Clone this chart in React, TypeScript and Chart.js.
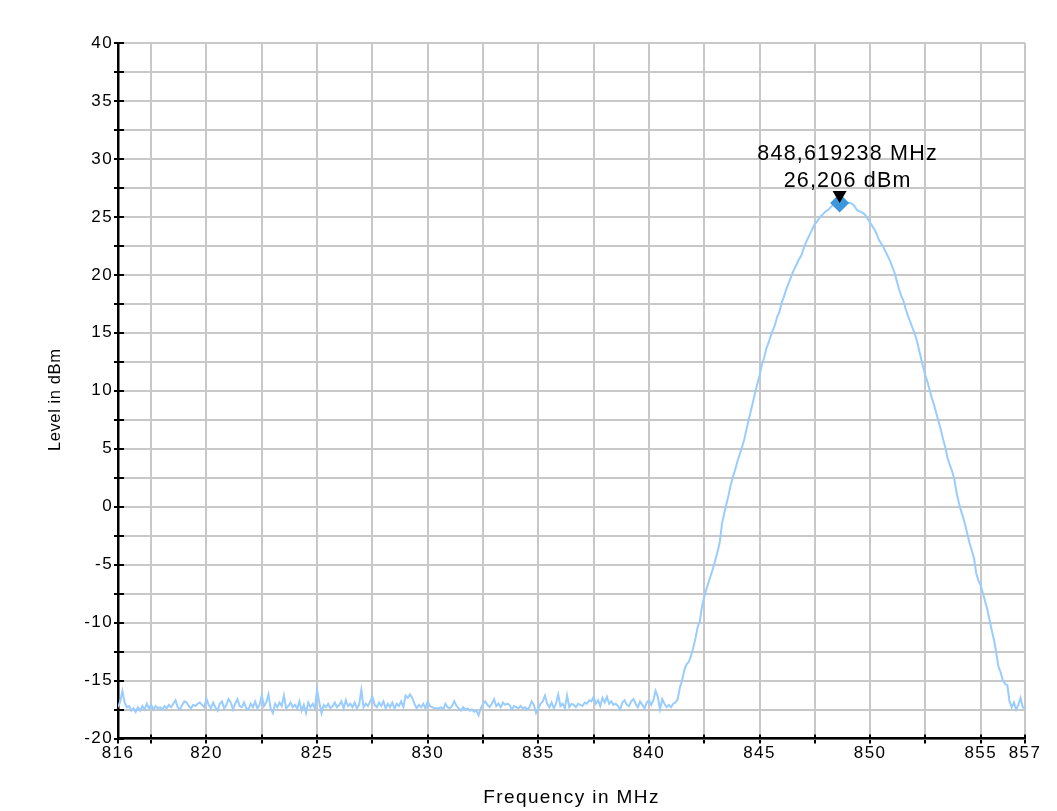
import React, { useEffect, useRef } from 'react';
import { Chart, registerables } from 'chart.js';

Chart.register(...registerables);

// Sweep grid of the spectrum trace
const FREQ_START = 816;
const FREQ_STEP = 0.1;

// Measured level per sweep point (dBm), 816.0 ... 857.0 MHz
const LEVEL_DBM = [
  -17.3, -16.8, -15.9, -16.9, -17.3, -17.2, -17.6, -17.4, -17.7, -17.3,
  -17.6, -17.2, -17.5, -17.0, -17.4, -17.1, -17.5, -17.2, -17.4, -17.3,
  -17.5, -17.2, -17.4, -17.1, -17.3, -17.0, -16.7, -17.3, -17.5, -17.1,
  -16.8, -16.9, -17.2, -17.4, -17.1, -17.2, -17.0, -16.9, -17.1, -17.3,
  -16.6, -17.1, -17.4, -16.9, -17.3, -17.6, -17.0, -16.8, -17.4, -17.1,
  -16.6, -16.9, -17.5, -17.0, -16.6, -17.2, -17.3, -16.9, -17.4, -17.5,
  -17.0, -17.3, -16.8, -17.4, -17.1, -16.3, -17.2, -16.9, -16.2, -17.4,
  -17.8, -17.0, -17.3, -16.9, -17.2, -16.3, -17.4, -17.2, -16.9, -17.3,
  -17.1, -17.4, -16.8, -17.6, -17.1, -17.8, -16.9, -17.3, -17.0, -17.4,
  -15.8, -16.9, -17.8, -17.1, -17.3, -17.0, -17.4, -17.2, -16.9, -17.3,
  -17.1, -16.8, -17.4, -16.7, -17.2, -17.0, -17.3, -16.9, -17.4, -17.1,
  -15.8, -17.3, -17.0, -17.2, -16.8, -16.4, -17.1, -17.3, -16.9, -17.2,
  -16.8, -17.4, -17.0, -17.3, -16.9, -17.4, -17.0, -17.2, -16.8, -17.3,
  -16.3, -16.5, -16.2, -16.5, -17.0, -17.4, -17.1, -17.3, -17.0, -17.4,
  -16.8, -17.2, -17.3, -17.4, -17.4, -17.4, -17.3, -17.5, -17.0, -17.3,
  -17.4, -17.2, -16.8, -17.2, -17.4, -17.6, -17.3, -17.5, -17.4, -17.6,
  -17.5, -17.7, -17.6, -18.0, -17.4, -17.0, -16.8, -17.1, -17.3, -17.0,
  -16.6, -17.2, -17.0, -17.3, -16.9, -17.1, -17.0, -17.1, -17.5, -17.2,
  -17.3, -17.4, -17.2, -17.4, -17.3, -17.5, -17.3, -16.8, -17.1, -17.8,
  -17.4, -17.0, -16.8, -16.3, -17.0, -17.3, -16.9, -17.4, -17.0, -16.2,
  -17.2, -17.0, -17.4, -16.3, -17.3, -17.0, -17.1, -17.3, -17.0, -17.1,
  -17.2, -16.9, -17.0, -16.7, -16.8, -16.4, -17.0, -16.7, -17.2, -16.5,
  -16.9, -16.4, -17.0, -16.8, -17.1, -17.0, -17.2, -17.5, -16.9, -16.7,
  -17.1, -17.2, -16.8, -16.6, -17.0, -17.3, -16.8, -17.1, -17.4, -16.9,
  -16.7, -17.1, -16.7, -15.9, -16.4, -17.5, -16.6, -17.0, -17.3, -17.1,
  -17.3, -17.0, -16.9, -16.6, -15.6, -15.0, -14.1, -13.6, -13.4, -12.9,
  -12.2, -11.4, -10.4, -9.9, -8.6, -7.8, -7.1, -6.5, -5.9, -5.3,
  -4.6, -3.9, -3.1, -1.5, -0.6, 0.2, 1.0, 1.9, 2.6, 3.2,
  3.9, 4.5, 5.1, 5.7, 6.6, 7.4, 8.2, 9.0, 9.8, 10.6,
  11.3, 12.2, 12.8, 13.6, 14.1, 14.7, 15.2, 15.7, 16.4, 16.8,
  17.6, 18.1, 18.7, 19.2, 19.7, 20.2, 20.6, 21.0, 21.4, 21.7,
  22.3, 22.8, 23.2, 23.6, 24.0, 24.4, 24.6, 24.9, 25.1, 25.3,
  25.5, 25.6, 25.8, 26.0, 26.1, 26.2, 26.2, 26.1, 26.1, 26.2,
  26.2, 26.2, 26.1, 25.9, 25.6, 25.5, 25.4, 25.3, 25.1, 24.8,
  24.5, 24.2, 23.9, 23.5, 23.0, 22.7, 22.4, 22.0, 21.6, 21.2,
  20.7, 20.2, 19.5, 18.8, 18.2, 17.8, 17.1, 16.5, 16.0, 15.5,
  15.0, 14.4, 13.6, 12.8, 12.0, 11.3, 10.7, 10.0, 9.3, 8.7,
  8.0, 7.3, 6.6, 5.8, 5.1, 4.2, 3.6, 3.1, 2.4, 1.3,
  0.4, -0.3, -0.9, -1.6, -2.4, -3.2, -3.8, -4.5, -5.8, -6.4,
  -6.8, -7.5, -8.2, -8.9, -9.8, -10.7, -11.5, -12.6, -13.8, -14.3,
  -15.0, -15.3, -15.4, -16.8, -17.3, -16.9, -17.5, -17.1, -16.5, -17.3,
  -17.4,
];

// Axis ticks
const X_MIN = 816;
const X_MAX = 857;
const X_TICKS = [816, 817.5, 820, 822.5, 825, 827.5, 830, 832.5, 835, 837.5, 840, 842.5, 845, 847.5, 850, 852.5, 855, 857];
const X_LABELS = [816, 820, 825, 830, 835, 840, 845, 850, 855, 857];
const Y_MIN = -20;
const Y_MAX = 40;
const Y_STEP = 2.5;
const Y_LABEL_STEP = 5;

// Peak marker
const MARKER_FREQ = 848.619238;
const MARKER_LEVEL = 26.206;

const X_TITLE = 'Frequency in MHz';
const Y_TITLE = 'Level in dBm';

const FONT = '"Liberation Sans", Arial, Helvetica, sans-serif';

const decorPlugin = {
  id: 'decor',
  beforeDraw(chart: any) {
    (chart.ctx as any).letterSpacing = '1.4px';
  },
  beforeDatasetsDraw(chart: any) {
    const { ctx, chartArea, scales } = chart;
    const xs = scales.x;
    const ys = scales.y;
    ctx.save();
    ctx.strokeStyle = '#000';
    ctx.lineWidth = 2;
    ctx.beginPath();
    xs.ticks.forEach((t: any) => {
      const px = Math.round(xs.getPixelForValue(t.value));
      ctx.moveTo(px, chartArea.bottom);
      ctx.lineTo(px, chartArea.bottom - 4);
    });
    ys.ticks.forEach((t: any) => {
      const py = Math.round(ys.getPixelForValue(t.value));
      ctx.moveTo(chartArea.left, py);
      ctx.lineTo(chartArea.left + 6, py);
    });
    ctx.stroke();
    ctx.restore();
  },
  afterDraw(chart: any) {
    const { ctx, chartArea, scales } = chart;
    const xs = scales.x;
    const ys = scales.y;

    // y axis title
    ctx.save();
    (ctx as any).letterSpacing = '0.6px';
    ctx.font = `16.5px ${FONT}`;
    ctx.fillStyle = '#000';
    ctx.translate(47, (chartArea.top + chartArea.bottom) / 2 + 9);
    ctx.rotate(-Math.PI / 2);
    ctx.textAlign = 'center';
    ctx.textBaseline = 'middle';
    ctx.fillText(Y_TITLE, 0, 0);
    ctx.restore();

    // marker triangle and readout
    const px = xs.getPixelForValue(MARKER_FREQ);
    const py = ys.getPixelForValue(MARKER_LEVEL);
    ctx.save();
    ctx.fillStyle = '#000';
    ctx.beginPath();
    ctx.moveTo(px - 7, py - 12);
    ctx.lineTo(px + 7, py - 12);
    ctx.lineTo(px, py);
    ctx.closePath();
    ctx.fill();

    (ctx as any).letterSpacing = '1.2px';
    ctx.font = `21.5px ${FONT}`;
    ctx.textAlign = 'center';
    ctx.textBaseline = 'middle';
    const line1 = MARKER_FREQ.toFixed(6).replace('.', ',') + ' MHz';
    const line2 = MARKER_LEVEL.toFixed(3).replace('.', ',') + ' dBm';
    ctx.fillText(line1, px + 8, py - 49);
    ctx.fillText(line2, px + 8, py - 22);
    ctx.restore();
  },
};

export default function App() {
  const canvasRef = useRef<HTMLCanvasElement | null>(null);

  useEffect(() => {
    document.documentElement.style.overflow = 'hidden';
    const canvas = canvasRef.current;
    if (!canvas) return;

    const trace = LEVEL_DBM.map((v, i) => ({ x: FREQ_START + i * FREQ_STEP, y: v }));

    const chart = new Chart(canvas, {
      type: 'line',
      data: {
        datasets: [
          {
            data: trace,
            borderColor: '#99ccff',
            borderWidth: 2,
            pointRadius: 0,
            tension: 0,
            fill: false,
            order: 2,
          },
          {
            data: [{ x: MARKER_FREQ, y: MARKER_LEVEL }],
            showLine: false,
            pointStyle: 'rectRot',
            pointRadius: 9.5,
            pointBackgroundColor: '#3c96dc',
            pointBorderWidth: 0,
            borderColor: '#3c96dc',
            order: 1,
          },
        ],
      },
      options: {
        animation: false,
        responsive: false,
        devicePixelRatio: 1,
        layout: { padding: { left: 0, top: 35, right: 32, bottom: 0 } },
        plugins: {
          legend: { display: false },
          tooltip: { enabled: false },
        },
        scales: {
          x: {
            type: 'linear',
            min: X_MIN,
            max: X_MAX,
            afterBuildTicks: (s: any) => {
              s.ticks = X_TICKS.map((v) => ({ value: v }));
            },
            afterFit: (s: any) => {
              s.height = 72.5;
            },
            grid: { color: '#c8c8c8', lineWidth: 2, tickColor: '#000', tickWidth: 2, tickLength: 5 },
            border: { color: '#000', width: 2.5 },
            ticks: {
              autoSkip: false,
              maxRotation: 0,
              minRotation: 0,
              padding: 1,
              color: '#000',
              font: { family: FONT, size: 17, lineHeight: 1 },
              callback: (v: any) => (X_LABELS.includes(Number(v)) ? String(v) : ''),
            },
            title: {
              display: true,
              text: X_TITLE,
              color: '#000',
              font: { family: FONT, size: 19, lineHeight: 1.2 },
              padding: { top: 0, bottom: 2 },
            },
          },
          y: {
            type: 'linear',
            min: Y_MIN,
            max: Y_MAX,
            afterFit: (s: any) => {
              s.width = 110;
            },
            grid: { color: '#c8c8c8', lineWidth: 2, tickColor: '#000', tickWidth: 2, tickLength: 4 },
            border: { color: '#000', width: 2.5 },
            ticks: {
              stepSize: Y_STEP,
              padding: 1,
              color: '#000',
              font: { family: FONT, size: 17, lineHeight: 1 },
              callback: (v: any) => (Number(v) % Y_LABEL_STEP === 0 ? String(v) : ''),
            },
          },
        },
      },
      plugins: [decorPlugin],
    } as any);

    return () => chart.destroy();
  }, []);

  return (
    <div
      style={{
        marginLeft: -1,
        marginTop: -1,
        width: 1050,
        height: 804,
        boxSizing: 'border-box',
        borderLeft: '1px solid #a8a8a8',
        borderTop: '1px solid #a8a8a8',
      }}
    >
      <canvas ref={canvasRef} width={1049} height={803} style={{ display: 'block' }} />
    </div>
  );
}
